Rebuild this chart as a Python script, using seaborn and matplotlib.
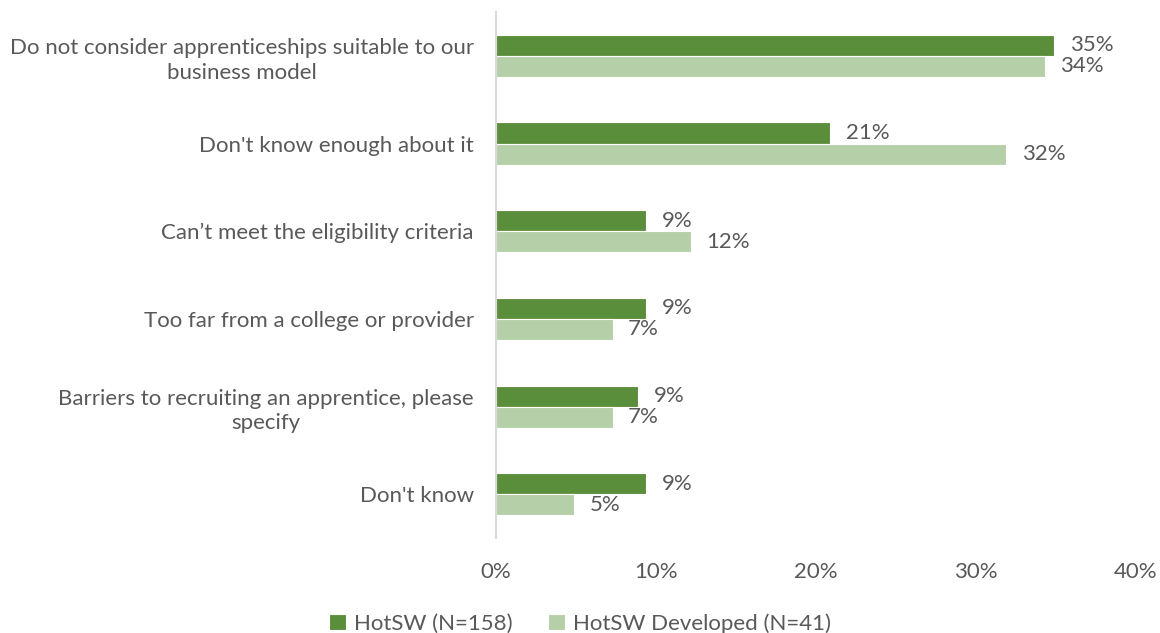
import matplotlib
matplotlib.use("Agg")
import matplotlib.pyplot as plt
import seaborn as sns
import pandas as pd

categories = [
    "Do not consider apprenticeships suitable to our\nbusiness model",
    "Don't know enough about it",
    "Can\u2019t meet the eligibility criteria",
    "Too far from a college or provider",
    "Barriers to recruiting an apprentice, please\nspecify",
    "Don't know",
]
series_names = ["HotSW (N=158)", "HotSW Developed (N=41)"]
hotsw = [34.9, 20.9, 9.4, 9.4, 8.9, 9.4]
hotsw_developed = [34.3, 31.9, 12.2, 7.3, 7.3, 4.9]
x_ticks = [0, 10, 20, 30, 40]
colors = ["#5B8E3A", "#B5D0A8"]
text_color = "#595959"
fs = 16

df = pd.DataFrame({
    "category": categories * 2,
    "series": [series_names[0]] * len(categories) + [series_names[1]] * len(categories),
    "value": hotsw + hotsw_developed,
})

sns.set_theme(style="white")
plt.rcParams["font.family"] = ["Lato", "DejaVu Sans"]

fig = plt.figure(figsize=(11.6, 6.33), dpi=100)
ax = fig.add_axes([0.4276, 0.150, 0.5517, 0.831])

sns.barplot(data=df, y="category", x="value", hue="series", order=categories,
            hue_order=series_names, palette=colors, orient="h", width=0.48,
            edgecolor="white", linewidth=0.8, saturation=1, ax=ax)

for container in ax.containers:
    ax.bar_label(container, labels=[f"{v:.0f}%" for v in container.datavalues],
                 padding=11, fontsize=fs, color=text_color)

ax.set_xlim(0, 40)
ax.set_xticks(x_ticks)
ax.set_xticklabels([f"{t}%" for t in x_ticks], fontsize=fs, color=text_color)
ax.set_ylabel("")
ax.set_xlabel("")
ax.tick_params(axis="both", length=0)
ax.tick_params(axis="x", pad=17)
ax.tick_params(axis="y", pad=16)
for lbl in ax.get_yticklabels():
    lbl.set_fontsize(fs)
    lbl.set_color(text_color)
    lbl.set_multialignment("center")
    lbl.set_linespacing(1.3)

for side in ["top", "right", "bottom"]:
    ax.spines[side].set_visible(False)
ax.spines["left"].set_color("#D9D9D9")
ax.spines["left"].set_linewidth(1.5)

legend_center = (0.5 - 0.4276) / 0.5517
ax.legend(loc="upper center", bbox_to_anchor=(legend_center, -0.105),
          ncol=2, frameon=False, fontsize=fs, labelcolor=text_color,
          handlelength=0.75, handleheight=0.75, handletextpad=0.35, columnspacing=1.6)

fig.savefig("out.png", dpi=100, facecolor="white")
